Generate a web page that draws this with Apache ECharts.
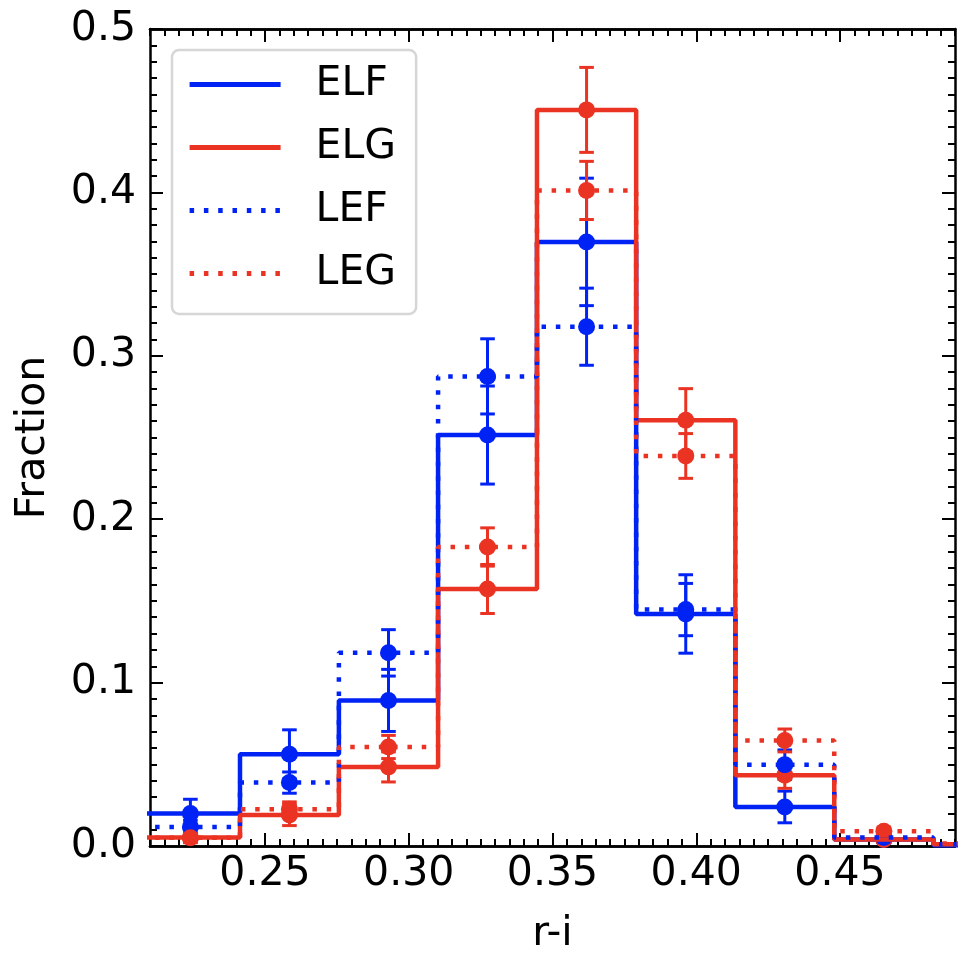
<!DOCTYPE html>
<html>
<head>
<meta charset="utf-8">
<script src="https://cdn.jsdelivr.net/npm/echarts@6/dist/echarts.min.js"></script>
<style>
  html, body { margin: 0; padding: 0; background: #fff; }
  #chart_div { width: 974px; height: 960px; }
</style>
</head>
<body>
<div id="chart_div"></div>
<script>
// bin edges of the r-i histogram
const binEdges = [0.2068, 0.2413, 0.2757, 0.3102, 0.3446, 0.3791, 0.4136, 0.4480, 0.4825, 0.5169]

// fraction per bin, and its error
const elf = [0.0199, 0.0561, 0.0891, 0.2515, 0.3697, 0.1420, 0.0239, 0.0040, 0.0005]
const elfErr = [0.0087, 0.0150, 0.0190, 0.0300, 0.0390, 0.0240, 0.0097, 0.0020, 0.0005]
const elg = [0.0052, 0.0190, 0.0484, 0.1573, 0.4505, 0.2605, 0.0433, 0.0040, 0.0010]
const elgErr = [0.0030, 0.0065, 0.0092, 0.0150, 0.0260, 0.0194, 0.0080, 0.0020, 0.0010]
const lef = [0.0117, 0.0388, 0.1182, 0.2874, 0.3178, 0.1447, 0.0498, 0.0052, 0.0010]
const lefErr = [0.0040, 0.0065, 0.0142, 0.0230, 0.0236, 0.0160, 0.0090, 0.0020, 0.0010]
const leg = [0.0050, 0.0225, 0.0606, 0.1830, 0.4012, 0.2387, 0.0646, 0.0090, 0.0015]
const legErr = [0.0030, 0.0045, 0.0071, 0.0117, 0.0178, 0.0137, 0.0070, 0.0025, 0.0010]

// axis ticks
const xMajorTicks = [0.25, 0.30, 0.35, 0.40, 0.45]
const xMin = 0.21
const xMax = 0.49

const BLUE = '#0023f5'
const RED = '#ea3323'
const FONT = 'DejaVu Sans'

let xMinorTicks = []
for (let k = 42; k <= 98; k++) {
  xMinorTicks.push(Math.round(k * 5) / 1000)
}

// step line points from edges
function stepData(vals) {
  let pts = []
  for (let i = 0; i < vals.length; i++) {
    pts.push([binEdges[i], vals[i]])
    pts.push([binEdges[i + 1], vals[i]])
  }
  return pts
}

// points at bin centers (only those inside the x range)
function pointData(vals, errs) {
  let pts = []
  for (let i = 0; i < vals.length; i++) {
    let c = (binEdges[i] + binEdges[i + 1]) / 2
    if (c > xMax) {
      continue
    }
    pts.push([c, vals[i], errs[i]])
  }
  return pts
}

function errRender(color) {
  return function (params, api) {
    let x = api.value(0)
    let y = api.value(1)
    let e = api.value(2)
    let top = api.coord([x, y + e])
    let bot = api.coord([x, y - e])
    let half = 7.3
    let style = { stroke: color, lineWidth: 3 }
    return {
      type: 'group',
      children: [
        { type: 'line', shape: { x1: top[0], y1: top[1], x2: bot[0], y2: bot[1] }, style: style },
        { type: 'line', shape: { x1: top[0] - half, y1: top[1], x2: top[0] + half, y2: top[1] }, style: style },
        { type: 'line', shape: { x1: bot[0] - half, y1: bot[1], x2: bot[0] + half, y2: bot[1] }, style: style }
      ]
    }
  }
}

const groups = [
  { name: 'ELF', vals: elf, errs: elfErr, color: BLUE, dash: 'solid' },
  { name: 'ELG', vals: elg, errs: elgErr, color: RED, dash: 'solid' },
  { name: 'LEF', vals: lef, errs: lefErr, color: BLUE, dash: [4.5, 9.8] },
  { name: 'LEG', vals: leg, errs: legErr, color: RED, dash: [4.5, 9.8] }
]

let series = []
for (let g of groups) {
  series.push({
    name: g.name,
    type: 'line',
    data: stepData(g.vals),
    symbol: 'none',
    showSymbol: false,
    clip: true,
    color: g.color,
    lineStyle: { color: g.color, width: 4.5, type: g.dash, cap: 'butt' },
    animation: false
  })
  series.push({
    name: g.name + ' err',
    type: 'custom',
    data: pointData(g.vals, g.errs),
    renderItem: errRender(g.color),
    animation: false
  })
  series.push({
    name: g.name + ' pts',
    type: 'scatter',
    data: pointData(g.vals, g.errs),
    symbolSize: 17,
    itemStyle: { color: g.color, opacity: 1 },
    animation: false
  })
}

const axisLine = { show: true, onZero: false, lineStyle: { color: '#000', width: 2.5 } }
const tickStyle = { color: '#000', width: 2 }

function xAxisDef(position, ticks, len, withLabel) {
  return {
    type: 'value',
    min: xMin,
    max: xMax,
    position: position,
    axisLine: axisLine,
    axisTick: { show: true, inside: true, length: len, customValues: ticks, lineStyle: tickStyle },
    axisLabel: {
      show: withLabel,
      customValues: xMajorTicks,
      formatter: function (v) { return v.toFixed(2) },
      fontSize: 41,
      fontFamily: FONT,
      color: '#000',
      margin: 8
    },
    splitLine: { show: false }
  }
}

let xAxes = [
  xAxisDef('bottom', xMajorTicks, 13, true),
  xAxisDef('top', xMajorTicks, 13, false),
  xAxisDef('bottom', xMinorTicks, 7, false),
  xAxisDef('top', xMinorTicks, 7, false)
]
xAxes[0].name = 'r-i'
xAxes[0].nameLocation = 'middle'
xAxes[0].nameGap = 68
xAxes[0].nameTextStyle = { fontSize: 41, fontFamily: FONT, color: '#000' }

function yAxisDef(position, withLabel) {
  return {
    type: 'value',
    min: 0,
    max: 0.5,
    interval: 0.1,
    position: position,
    axisLine: axisLine,
    axisTick: { show: true, inside: true, length: 13, lineStyle: tickStyle },
    minorTick: { show: true, splitNumber: 10, length: 7, lineStyle: tickStyle },
    axisLabel: {
      show: withLabel,
      formatter: function (v) { return v.toFixed(1) },
      fontSize: 41,
      fontFamily: FONT,
      color: '#000',
      margin: 14
    },
    splitLine: { show: false },
    minorSplitLine: { show: false }
  }
}

let yAxes = [yAxisDef('left', true), yAxisDef('right', false)]
yAxes[0].name = 'Fraction'
yAxes[0].nameLocation = 'middle'
yAxes[0].nameGap = 96
yAxes[0].nameTextStyle = { fontSize: 41, fontFamily: FONT, color: '#000' }

const option = {
  animation: false,
  backgroundColor: '#fff',
  grid: { left: 150, right: 19, top: 29, bottom: 112.5, containLabel: false },
  xAxis: xAxes,
  yAxis: yAxes,
  legend: {
    data: ['ELF', 'ELG', 'LEF', 'LEG'],
    orient: 'vertical',
    left: 172,
    top: 50,
    itemWidth: 91,
    itemHeight: 20,
    itemGap: 22,
    padding: [14, 20, 20, 15],
    backgroundColor: '#fff',
    borderColor: '#d6d6d6',
    borderWidth: 2.5,
    borderRadius: 7,
    selectedMode: false,
    itemStyle: { opacity: 0 },
    lineStyle: { width: 5.2 },
    textStyle: { fontSize: 41, fontFamily: FONT, color: '#000', lineHeight: 41, padding: [0, 0, 0, 30] }
  },
  series: series
}

var myChart = echarts.init(document.getElementById('chart_div'))
myChart.setOption(option)
</script>
</body>
</html>
